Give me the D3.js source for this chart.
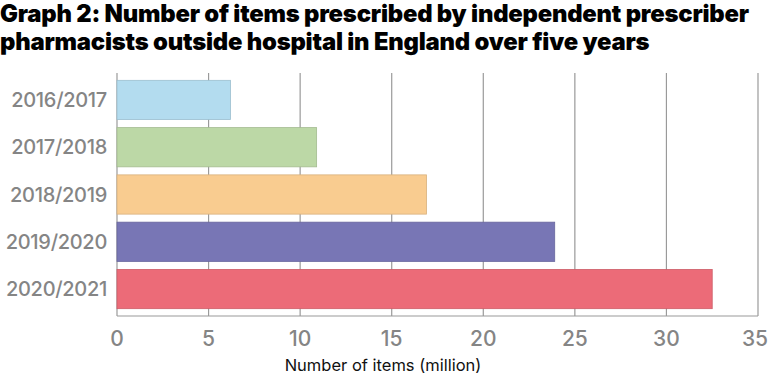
<!DOCTYPE html>
<html lang="en">
<head>
    <meta charset="UTF-8">
    <title>Graph 2</title>
    <script src="https://cdn.jsdelivr.net/npm/d3@7"></script>
    <style>
        body { margin: 0; background: #fff; }
        svg { display: block; font-family: Inter, "Liberation Sans", sans-serif; }
        .title { font-weight: 900; font-size: 23.8px; fill: #000; letter-spacing: -0.2px; }
        .tick-label { fill: #858585; font-size: 21px; font-weight: 500; }
        .y-label { font-size: 20px; letter-spacing: -0.3px; }
    </style>
</head>
<body>
    <svg width="768" height="377"></svg>
    <script>
        // data
        const years = ["2016/2017", "2017/2018", "2018/2019", "2019/2020", "2020/2021"];
        const items = [6.2, 10.9, 16.9, 23.9, 32.5];
        const barColors = ["#b3dcef", "#bcd8a6", "#f9cc90", "#7876b5", "#ec6b78"];
        const xTicks = [0, 5, 10, 15, 20, 25, 30, 35];

        const width = 768, height = 377;
        const margin = { top: 73, right: 10, bottom: 61, left: 117 };

        const svg = d3.select("svg");

        // title
        const titleLines = [
            "Graph 2: Number of items prescribed by independent prescriber",
            "pharmacists outside hospital in England over five years"
        ];
        svg.selectAll(".title")
            .data(titleLines)
            .join("text")
            .attr("class", "title")
            .attr("x", 0)
            .attr("y", (d, i) => 22 + i * 28)
            .text(d => d);

        const x = d3.scaleLinear()
            .domain([0, 35])
            .range([margin.left, 758]);

        const y = d3.scaleBand()
            .domain(years)
            .range([margin.top, height - margin.bottom])
            .paddingInner(0.17)
            .paddingOuter(0.155);

        const data = years.map((d, i) => ({ year: d, value: items[i], color: barColors[i] }));

        // grid lines
        svg.append("g")
            .selectAll("line")
            .data(xTicks)
            .join("line")
            .attr("x1", d => x(d))
            .attr("x2", d => x(d))
            .attr("y1", margin.top)
            .attr("y2", height - margin.bottom)
            .attr("stroke", "#9a9a9a")
            .attr("stroke-width", 1.2);

        // bottom axis line
        svg.append("line")
            .attr("x1", x(0))
            .attr("x2", x(35))
            .attr("y1", height - margin.bottom)
            .attr("y2", height - margin.bottom)
            .attr("stroke", "#9a9a9a")
            .attr("stroke-width", 1.2);

        // bars
        svg.selectAll(".bar")
            .data(data)
            .join("rect")
            .attr("class", "bar")
            .attr("x", x(0))
            .attr("y", d => y(d.year))
            .attr("width", d => x(d.value) - x(0))
            .attr("height", y.bandwidth())
            .attr("fill", d => d.color)
            .attr("stroke", d => d3.color(d.color).darker(0.4))
            .attr("stroke-width", 0.8);

        // x tick labels (last one nudged so it stays on the page)
        svg.append("g")
            .selectAll("text")
            .data(xTicks)
            .join("text")
            .attr("class", "tick-label")
            .attr("x", d => x(d))
            .attr("dx", d => d === 35 ? -3 : 0)
            .attr("y", 346)
            .attr("text-anchor", "middle")
            .text(d => d);

        // y labels
        svg.append("g")
            .selectAll("text")
            .data(years)
            .join("text")
            .attr("class", "tick-label y-label")
            .attr("x", 107)
            .attr("y", d => y(d) + y.bandwidth() / 2)
            .attr("dy", "0.36em")
            .attr("text-anchor", "end")
            .text(d => d);

        // axis title
        svg.append("text")
            .attr("x", 383)
            .attr("y", 371)
            .attr("text-anchor", "middle")
            .attr("font-size", 16.5)
            .attr("fill", "#111")
            .text("Number of items (million)");
    </script>
</body>
</html>
